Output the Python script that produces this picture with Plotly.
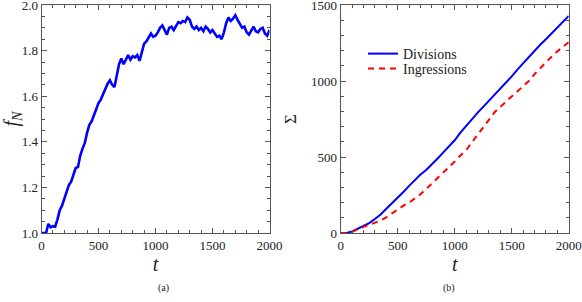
import plotly.graph_objects as go

# ---- data ----
t_a = list(range(0, 2001, 20))
f_N = [1.000, 1.000, 1.000, 1.040, 1.025, 1.030, 1.028, 1.060, 1.100, 1.120,
       1.150, 1.185, 1.210, 1.225, 1.260, 1.285, 1.290, 1.340, 1.370, 1.395,
       1.440, 1.475, 1.490, 1.520, 1.545, 1.570, 1.585, 1.610, 1.630, 1.655,
       1.670, 1.650, 1.640, 1.690, 1.740, 1.765, 1.740, 1.760, 1.780, 1.760,
       1.775, 1.770, 1.780, 1.755, 1.790, 1.830, 1.840, 1.860, 1.875, 1.860,
       1.865, 1.880, 1.900, 1.910, 1.890, 1.870, 1.900, 1.905, 1.890, 1.910,
       1.925, 1.920, 1.930, 1.925, 1.945, 1.935, 1.905, 1.895, 1.905, 1.890,
       1.900, 1.885, 1.905, 1.895, 1.880, 1.890, 1.875, 1.860, 1.865, 1.850,
       1.880, 1.920, 1.945, 1.930, 1.940, 1.955, 1.935, 1.915, 1.900, 1.905,
       1.880, 1.870, 1.890, 1.905, 1.885, 1.880, 1.895, 1.900, 1.875, 1.865,
       1.890]

t_b = list(range(0, 2001, 50))
divisions = [0, 0, 10, 28, 45, 65, 92, 122, 160, 195, 235, 270, 310, 350, 385,
             415, 450, 490, 530, 570, 610, 660, 705, 745, 790, 830, 870, 905,
             945, 990, 1030, 1075, 1117, 1160, 1200, 1238, 1275, 1315, 1350,
             1390, 1428]
ingressions = [0, 0, 8, 25, 40, 53, 66, 82, 103, 128, 157, 180, 200, 225, 255,
               290, 325, 360, 395, 432, 470, 510, 545, 595, 645, 700, 750, 795,
               830, 865, 895, 930, 965, 1000, 1045, 1085, 1120, 1160, 1195,
               1225, 1255]

x_ticks = [0, 500, 1000, 1500, 2000]
ya_ticks = [1.0, 1.2, 1.4, 1.6, 1.8, 2.0]
yb_ticks = [0, 500, 1000, 1500]

FONT = "Liberation Serif"
W, H = 582, 302

fig = go.Figure()
fig.add_trace(go.Scatter(x=t_a, y=f_N, mode="lines", line=dict(color="#0000ff", width=2.6),
                         showlegend=False, xaxis="x", yaxis="y", cliponaxis=False))
fig.add_trace(go.Scatter(x=t_b, y=divisions, mode="lines", name="Divisions",
                         line=dict(color="#0000ff", width=2), xaxis="x2", yaxis="y2",
                         legend="legend"))
fig.add_trace(go.Scatter(x=t_b, y=ingressions, mode="lines", name="Ingressions",
                         line=dict(color="#ff0000", width=2, dash="6px,5px"),
                         xaxis="x2", yaxis="y2", legend="legend2"))

ydom = [1 - 233 / H, 1 - 5 / H]
common = dict(showgrid=False, zeroline=False, showline=True, linecolor="#555555", linewidth=1,
              mirror="allticks", ticks="inside", ticklen=5, tickwidth=1, tickcolor="#555555",
              automargin=False, ticklabeloverflow="allow",
              tickfont=dict(family=FONT, size=13, color="#222222"))

def xax(dom, anchor):
    return dict(domain=dom, anchor=anchor, range=[0, 2000], tickvals=x_ticks,
                minor=dict(ticks="inside", ticklen=3, dtick=100, tickcolor="#555555", showgrid=False),
                title=dict(text="<i>t</i>", font=dict(family=FONT, size=20, color="#222222"), standoff=1),
                **common)

legend_common = dict(xanchor="left", yanchor="top", bgcolor="rgba(0,0,0,0)",
                     font=dict(family=FONT, size=14, color="#222222"), itemwidth=30)

fig.update_layout(
    width=W, height=H, margin=dict(l=0, r=0, t=0, b=0, autoexpand=False),
    paper_bgcolor="white", plot_bgcolor="white",
    xaxis=xax([41.5 / W, 269.5 / W], "y"),
    xaxis2=xax([340.7 / W, 568.7 / W], "y2"),
    yaxis=dict(domain=ydom, anchor="x", range=[1.0, 2.0], tickvals=ya_ticks,
               ticktext=["1.0", "1.2", "1.4", "1.6", "1.8", "2.0"],
               minor=dict(ticks="inside", ticklen=3, dtick=0.05, tickcolor="#555555", showgrid=False),
               title=dict(text="<i>f</i><sub><i>N</i></sub>", font=dict(family=FONT, size=20, color="#222222"), standoff=4),
               **common),
    yaxis2=dict(domain=ydom, anchor="x2", range=[0, 1500], tickvals=yb_ticks,
                minor=dict(ticks="inside", ticklen=3, dtick=100, tickcolor="#555555", showgrid=False),
                title=dict(text="Σ", font=dict(family=FONT, size=17, color="#222222"), standoff=10),
                **common),
    legend=dict(x=363 / W, y=1 - 38 / H, **legend_common),
    legend2=dict(x=363 / W, y=1 - 53 / H, **legend_common),
    annotations=[
        dict(text="(a)", x=155.5 / W, y=1 - 296 / H, xref="paper", yref="paper",
             showarrow=False, font=dict(family=FONT, size=10, color="#222222")),
        dict(text="(b)", x=456.5 / W, y=1 - 296 / H, xref="paper", yref="paper",
             showarrow=False, font=dict(family=FONT, size=10, color="#222222")),
    ],
)

fig.write_html("out.html", config={"displayModeBar": False},
               post_script="document.body.style.margin='0';")
